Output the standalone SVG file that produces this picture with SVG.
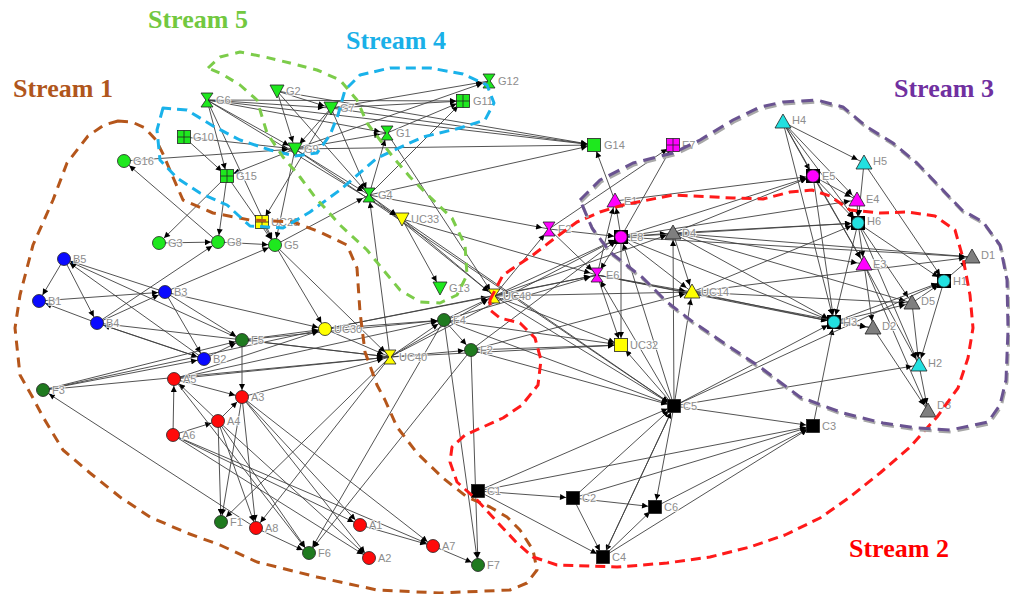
<svg xmlns="http://www.w3.org/2000/svg" xmlns:xlink="http://www.w3.org/1999/xlink" width="1010" height="594" viewBox="0 0 1010 594">
<style>
.lb{font-family:"Liberation Sans",Arial,sans-serif;font-size:11px;fill:#8d8d8d;stroke:#fff;stroke-width:2.2;stroke-opacity:0.75;paint-order:stroke;stroke-linejoin:round}
.st{font-family:"Liberation Serif","Times New Roman",serif;font-size:26px;font-weight:bold}
.loop{fill:none;stroke-width:3;stroke-linejoin:round}
#connectors line{stroke:#404040;stroke-width:0.9}
.ol{stroke:#222;stroke-width:0.8}
</style>
<defs>
<marker id="arr" viewBox="0 0 14 6" refX="14" refY="3" markerWidth="14" markerHeight="6" markerUnits="userSpaceOnUse" orient="auto"><path d="M1,0 L7,3 L1,6 z" fill="#000"/></marker>
<circle id="ci" class="ol" r="6.5"/>
<rect id="sq" class="ol" x="-6.5" y="-6.5" width="13" height="13"/>
<g id="gr"><rect class="ol" x="-6.5" y="-6.5" width="13" height="13"/><path class="ol" d="M-6.5,0H6.5M0,-6.5V6.5" fill="none"/></g>
<polygon id="hg" class="ol" points="-6,-7 6,-7 1.2,0 6,7 -6,7 -1.2,0"/>
<polygon id="dt" class="ol" points="-7,-6 7,-6 0,7"/>
<polygon id="ut" class="ol" points="0,-8 8,6 -8,6"/>
<g id="cs"><rect x="-7" y="-7" width="14" height="14" fill="#000"/><circle class="ol" r="6.2"/></g>
</defs>
<rect width="1010" height="594" fill="#fff"/>
<g id="connectors" marker-end="url(#arr)">
<line x1="207" y1="100" x2="331" y2="108"/>
<line x1="207" y1="100" x2="387" y2="133"/>
<line x1="207" y1="100" x2="463" y2="101"/>
<line x1="207" y1="100" x2="594" y2="145"/>
<line x1="207" y1="100" x2="227" y2="176"/>
<line x1="207" y1="100" x2="295" y2="149"/>
<line x1="207" y1="100" x2="275" y2="245"/>
<line x1="184" y1="137" x2="227" y2="176"/>
<line x1="184" y1="137" x2="295" y2="149"/>
<line x1="124" y1="161" x2="295" y2="149"/>
<line x1="218" y1="242" x2="124" y2="161"/>
<line x1="227" y1="176" x2="159" y2="243"/>
<line x1="227" y1="176" x2="218" y2="242"/>
<line x1="227" y1="176" x2="275" y2="245"/>
<line x1="277" y1="91" x2="331" y2="108"/>
<line x1="277" y1="91" x2="295" y2="149"/>
<line x1="277" y1="91" x2="594" y2="145"/>
<line x1="277" y1="91" x2="369" y2="195"/>
<line x1="331" y1="108" x2="463" y2="101"/>
<line x1="331" y1="108" x2="594" y2="145"/>
<line x1="331" y1="108" x2="369" y2="195"/>
<line x1="331" y1="108" x2="295" y2="149"/>
<line x1="295" y1="149" x2="387" y2="133"/>
<line x1="295" y1="149" x2="369" y2="195"/>
<line x1="295" y1="149" x2="594" y2="145"/>
<line x1="295" y1="149" x2="489" y2="81"/>
<line x1="295" y1="149" x2="227" y2="176"/>
<line x1="369" y1="195" x2="387" y2="133"/>
<line x1="369" y1="195" x2="463" y2="101"/>
<line x1="369" y1="195" x2="594" y2="145"/>
<line x1="387" y1="133" x2="463" y2="101"/>
<line x1="331" y1="108" x2="489" y2="81"/>
<line x1="369" y1="195" x2="402" y2="219"/>
<line x1="402" y1="219" x2="440" y2="288"/>
<line x1="402" y1="219" x2="494" y2="296"/>
<line x1="369" y1="195" x2="494" y2="296"/>
<line x1="262" y1="222" x2="275" y2="245"/>
<line x1="275" y1="245" x2="325" y2="329"/>
<line x1="275" y1="245" x2="369" y2="195"/>
<line x1="275" y1="245" x2="390" y2="357"/>
<line x1="218" y1="242" x2="275" y2="245"/>
<line x1="159" y1="243" x2="218" y2="242"/>
<line x1="295" y1="149" x2="275" y2="245"/>
<line x1="331" y1="108" x2="262" y2="222"/>
<line x1="295" y1="149" x2="674" y2="406"/>
<line x1="387" y1="133" x2="494" y2="296"/>
<line x1="207" y1="100" x2="402" y2="219"/>
<line x1="402" y1="219" x2="597" y2="275"/>
<line x1="369" y1="195" x2="549" y2="229"/>
<line x1="64" y1="259" x2="39" y2="301"/>
<line x1="64" y1="259" x2="97" y2="323"/>
<line x1="97" y1="323" x2="39" y2="301"/>
<line x1="39" y1="301" x2="165" y2="292"/>
<line x1="97" y1="323" x2="165" y2="292"/>
<line x1="165" y1="292" x2="64" y2="259"/>
<line x1="204" y1="359" x2="64" y2="259"/>
<line x1="242" y1="340" x2="64" y2="259"/>
<line x1="204" y1="359" x2="97" y2="323"/>
<line x1="165" y1="292" x2="204" y2="359"/>
<line x1="97" y1="323" x2="204" y2="359"/>
<line x1="165" y1="292" x2="242" y2="340"/>
<line x1="97" y1="323" x2="390" y2="357"/>
<line x1="165" y1="292" x2="325" y2="329"/>
<line x1="97" y1="323" x2="218" y2="242"/>
<line x1="165" y1="292" x2="275" y2="245"/>
<line x1="204" y1="359" x2="242" y2="340"/>
<line x1="43" y1="390" x2="242" y2="340"/>
<line x1="43" y1="390" x2="325" y2="329"/>
<line x1="43" y1="390" x2="390" y2="357"/>
<line x1="43" y1="390" x2="204" y2="359"/>
<line x1="256" y1="528" x2="43" y2="390"/>
<line x1="242" y1="340" x2="325" y2="329"/>
<line x1="242" y1="340" x2="390" y2="357"/>
<line x1="242" y1="340" x2="444" y2="320"/>
<line x1="242" y1="340" x2="242" y2="397"/>
<line x1="174" y1="379" x2="325" y2="329"/>
<line x1="174" y1="379" x2="390" y2="357"/>
<line x1="174" y1="379" x2="242" y2="397"/>
<line x1="173" y1="435" x2="174" y2="379"/>
<line x1="173" y1="435" x2="218" y2="421"/>
<line x1="218" y1="421" x2="242" y2="397"/>
<line x1="218" y1="421" x2="174" y2="379"/>
<line x1="218" y1="421" x2="221" y2="522"/>
<line x1="218" y1="421" x2="256" y2="528"/>
<line x1="218" y1="421" x2="309" y2="553"/>
<line x1="218" y1="421" x2="369" y2="558"/>
<line x1="242" y1="397" x2="221" y2="522"/>
<line x1="242" y1="397" x2="256" y2="528"/>
<line x1="242" y1="397" x2="360" y2="525"/>
<line x1="242" y1="397" x2="369" y2="558"/>
<line x1="242" y1="397" x2="433" y2="546"/>
<line x1="173" y1="435" x2="360" y2="525"/>
<line x1="173" y1="435" x2="433" y2="546"/>
<line x1="173" y1="435" x2="369" y2="558"/>
<line x1="174" y1="379" x2="309" y2="553"/>
<line x1="256" y1="528" x2="309" y2="553"/>
<line x1="360" y1="525" x2="433" y2="546"/>
<line x1="433" y1="546" x2="478" y2="565"/>
<line x1="471" y1="350" x2="478" y2="565"/>
<line x1="444" y1="320" x2="478" y2="565"/>
<line x1="444" y1="320" x2="309" y2="553"/>
<line x1="390" y1="357" x2="221" y2="522"/>
<line x1="390" y1="357" x2="256" y2="528"/>
<line x1="325" y1="329" x2="390" y2="357"/>
<line x1="325" y1="329" x2="444" y2="320"/>
<line x1="325" y1="329" x2="494" y2="296"/>
<line x1="390" y1="357" x2="444" y2="320"/>
<line x1="390" y1="357" x2="471" y2="350"/>
<line x1="390" y1="357" x2="494" y2="296"/>
<line x1="444" y1="320" x2="471" y2="350"/>
<line x1="444" y1="320" x2="494" y2="296"/>
<line x1="390" y1="357" x2="369" y2="195"/>
<line x1="174" y1="379" x2="444" y2="320"/>
<line x1="242" y1="397" x2="390" y2="357"/>
<line x1="471" y1="350" x2="309" y2="553"/>
<line x1="494" y1="296" x2="621" y2="237"/>
<line x1="494" y1="296" x2="597" y2="275"/>
<line x1="494" y1="296" x2="692" y2="292"/>
<line x1="494" y1="296" x2="621" y2="345"/>
<line x1="494" y1="296" x2="674" y2="406"/>
<line x1="494" y1="296" x2="549" y2="229"/>
<line x1="444" y1="320" x2="621" y2="345"/>
<line x1="471" y1="350" x2="621" y2="345"/>
<line x1="390" y1="357" x2="621" y2="345"/>
<line x1="444" y1="320" x2="597" y2="275"/>
<line x1="471" y1="350" x2="674" y2="406"/>
<line x1="444" y1="320" x2="674" y2="406"/>
<line x1="402" y1="219" x2="674" y2="406"/>
<line x1="471" y1="350" x2="621" y2="237"/>
<line x1="325" y1="329" x2="597" y2="275"/>
<line x1="549" y1="229" x2="621" y2="237"/>
<line x1="549" y1="229" x2="597" y2="275"/>
<line x1="549" y1="229" x2="673" y2="145"/>
<line x1="621" y1="237" x2="673" y2="145"/>
<line x1="615" y1="201" x2="594" y2="145"/>
<line x1="621" y1="237" x2="615" y2="201"/>
<line x1="597" y1="275" x2="615" y2="201"/>
<line x1="621" y1="237" x2="597" y2="275"/>
<line x1="621" y1="237" x2="673" y2="233"/>
<line x1="621" y1="237" x2="621" y2="345"/>
<line x1="597" y1="275" x2="621" y2="345"/>
<line x1="621" y1="237" x2="692" y2="292"/>
<line x1="673" y1="233" x2="692" y2="292"/>
<line x1="597" y1="275" x2="692" y2="292"/>
<line x1="674" y1="406" x2="673" y2="233"/>
<line x1="674" y1="406" x2="692" y2="292"/>
<line x1="674" y1="406" x2="621" y2="237"/>
<line x1="674" y1="406" x2="597" y2="275"/>
<line x1="674" y1="406" x2="621" y2="345"/>
<line x1="621" y1="237" x2="813" y2="176"/>
<line x1="673" y1="233" x2="813" y2="176"/>
<line x1="615" y1="201" x2="813" y2="176"/>
<line x1="621" y1="237" x2="858" y2="223"/>
<line x1="673" y1="233" x2="858" y2="223"/>
<line x1="621" y1="237" x2="857" y2="200"/>
<line x1="673" y1="233" x2="864" y2="264"/>
<line x1="621" y1="237" x2="834" y2="322"/>
<line x1="673" y1="233" x2="834" y2="322"/>
<line x1="692" y1="292" x2="834" y2="322"/>
<line x1="597" y1="275" x2="834" y2="322"/>
<line x1="692" y1="292" x2="972" y2="257"/>
<line x1="621" y1="237" x2="972" y2="257"/>
<line x1="673" y1="233" x2="912" y2="303"/>
<line x1="692" y1="292" x2="912" y2="303"/>
<line x1="692" y1="292" x2="858" y2="223"/>
<line x1="783" y1="122" x2="864" y2="163"/>
<line x1="783" y1="122" x2="813" y2="176"/>
<line x1="783" y1="122" x2="857" y2="200"/>
<line x1="783" y1="122" x2="858" y2="223"/>
<line x1="783" y1="122" x2="834" y2="322"/>
<line x1="783" y1="122" x2="864" y2="264"/>
<line x1="864" y1="163" x2="858" y2="223"/>
<line x1="864" y1="163" x2="944" y2="281"/>
<line x1="813" y1="176" x2="857" y2="200"/>
<line x1="813" y1="176" x2="858" y2="223"/>
<line x1="813" y1="176" x2="834" y2="322"/>
<line x1="813" y1="176" x2="864" y2="264"/>
<line x1="857" y1="200" x2="858" y2="223"/>
<line x1="858" y1="223" x2="864" y2="264"/>
<line x1="858" y1="223" x2="834" y2="322"/>
<line x1="858" y1="223" x2="944" y2="281"/>
<line x1="858" y1="223" x2="919" y2="365"/>
<line x1="858" y1="223" x2="912" y2="303"/>
<line x1="864" y1="264" x2="919" y2="365"/>
<line x1="864" y1="264" x2="873" y2="328"/>
<line x1="864" y1="264" x2="928" y2="411"/>
<line x1="944" y1="281" x2="972" y2="257"/>
<line x1="912" y1="303" x2="944" y2="281"/>
<line x1="834" y1="322" x2="912" y2="303"/>
<line x1="834" y1="322" x2="944" y2="281"/>
<line x1="834" y1="322" x2="873" y2="328"/>
<line x1="944" y1="281" x2="919" y2="365"/>
<line x1="912" y1="303" x2="919" y2="365"/>
<line x1="919" y1="365" x2="928" y2="411"/>
<line x1="873" y1="328" x2="928" y2="411"/>
<line x1="674" y1="406" x2="834" y2="322"/>
<line x1="674" y1="406" x2="919" y2="365"/>
<line x1="813" y1="426" x2="834" y2="322"/>
<line x1="674" y1="406" x2="813" y2="426"/>
<line x1="674" y1="406" x2="944" y2="281"/>
<line x1="674" y1="406" x2="655" y2="507"/>
<line x1="674" y1="406" x2="603" y2="557"/>
<line x1="478" y1="491" x2="573" y2="498"/>
<line x1="573" y1="498" x2="655" y2="507"/>
<line x1="573" y1="498" x2="603" y2="557"/>
<line x1="478" y1="491" x2="603" y2="557"/>
<line x1="603" y1="557" x2="655" y2="507"/>
<line x1="478" y1="491" x2="674" y2="406"/>
<line x1="573" y1="498" x2="674" y2="406"/>
<line x1="603" y1="557" x2="674" y2="406"/>
<line x1="478" y1="491" x2="813" y2="426"/>
<line x1="573" y1="498" x2="813" y2="426"/>
<line x1="655" y1="507" x2="813" y2="426"/>
<line x1="603" y1="557" x2="813" y2="426"/>
<line x1="673" y1="233" x2="972" y2="257"/>
<line x1="597" y1="275" x2="873" y2="328"/>
<line x1="494" y1="296" x2="673" y2="233"/>
<line x1="471" y1="350" x2="692" y2="292"/>
<line x1="390" y1="357" x2="621" y2="237"/>
</g>
<g id="nodes">
<g id="G6"><use href="#hg" x="207" y="100" fill="#1ee81e"/><text class="lb" x="216" y="104">G6</text></g>
<g id="G2"><use href="#dt" x="277" y="91" fill="#1ee81e"/><text class="lb" x="286" y="95">G2</text></g>
<g id="G7"><use href="#dt" x="331" y="108" fill="#1ee81e"/><text class="lb" x="340" y="112">G7</text></g>
<g id="G12"><use href="#hg" x="489" y="81" fill="#1ee81e"/><text class="lb" x="498" y="85">G12</text></g>
<g id="G11"><use href="#gr" x="463" y="101" fill="#1ee81e"/><text class="lb" x="473" y="105">G11</text></g>
<g id="G1"><use href="#hg" x="387" y="133" fill="#1ee81e"/><text class="lb" x="396" y="137">G1</text></g>
<g id="G9"><use href="#dt" x="295" y="149" fill="#1ee81e"/><text class="lb" x="304" y="153">G9</text></g>
<g id="G4"><use href="#hg" x="369" y="195" fill="#1ee81e"/><text class="lb" x="378" y="199">G4</text></g>
<g id="G10"><use href="#gr" x="184" y="137" fill="#1ee81e"/><text class="lb" x="193" y="141">G10</text></g>
<g id="G16"><use href="#ci" x="124" y="161" fill="#1ee81e"/><text class="lb" x="133" y="165">G16</text></g>
<g id="G15"><use href="#gr" x="227" y="176" fill="#1ee81e"/><text class="lb" x="236" y="180">G15</text></g>
<g id="G14"><use href="#sq" x="594" y="145" fill="#1ee81e"/><text class="lb" x="604" y="149">G14</text></g>
<g id="E7"><use href="#gr" x="673" y="145" fill="#ff00ff"/><text class="lb" x="682" y="149">E7</text></g>
<g id="UC33"><use href="#dt" x="402" y="219" fill="#ffff00"/><text class="lb" x="411" y="223">UC33</text></g>
<g id="UC29"><use href="#gr" x="262" y="222" fill="#ffff00"/><text class="lb" x="271" y="226">UC29</text></g>
<g id="G5"><use href="#ci" x="275" y="245" fill="#1ee81e"/><text class="lb" x="284" y="249">G5</text></g>
<g id="G13"><use href="#dt" x="440" y="288" fill="#1ee81e"/><text class="lb" x="449" y="292">G13</text></g>
<g id="UC48"><use href="#hg" x="494" y="296" fill="#ffff00"/><text class="lb" x="503" y="300">UC48</text></g>
<g id="G3"><use href="#ci" x="159" y="243" fill="#1ee81e"/><text class="lb" x="168" y="247">G3</text></g>
<g id="G8"><use href="#ci" x="218" y="242" fill="#1ee81e"/><text class="lb" x="227" y="246">G8</text></g>
<g id="B5"><use href="#ci" x="64" y="259" fill="#0a0aff"/><text class="lb" x="73" y="263">B5</text></g>
<g id="B1"><use href="#ci" x="39" y="301" fill="#0a0aff"/><text class="lb" x="48" y="305">B1</text></g>
<g id="B3"><use href="#ci" x="165" y="292" fill="#0a0aff"/><text class="lb" x="174" y="296">B3</text></g>
<g id="B4"><use href="#ci" x="97" y="323" fill="#0a0aff"/><text class="lb" x="106" y="327">B4</text></g>
<g id="B2"><use href="#ci" x="204" y="359" fill="#0a0aff"/><text class="lb" x="213" y="363">B2</text></g>
<g id="F5"><use href="#ci" x="242" y="340" fill="#1f7a1f"/><text class="lb" x="251" y="344">F5</text></g>
<g id="A5"><use href="#ci" x="174" y="379" fill="#ff0a0a"/><text class="lb" x="183" y="383">A5</text></g>
<g id="F3"><use href="#ci" x="43" y="390" fill="#1f7a1f"/><text class="lb" x="52" y="394">F3</text></g>
<g id="UC30"><use href="#ci" x="325" y="329" fill="#ffff00"/><text class="lb" x="334" y="333">UC30</text></g>
<g id="F4"><use href="#ci" x="444" y="320" fill="#1f7a1f"/><text class="lb" x="453" y="324">F4</text></g>
<g id="UC40"><use href="#hg" x="390" y="357" fill="#ffff00"/><text class="lb" x="399" y="361">UC40</text></g>
<g id="F2"><use href="#ci" x="471" y="350" fill="#1f7a1f"/><text class="lb" x="480" y="354">F2</text></g>
<g id="A3"><use href="#ci" x="242" y="397" fill="#ff0a0a"/><text class="lb" x="251" y="401">A3</text></g>
<g id="A4"><use href="#ci" x="218" y="421" fill="#ff0a0a"/><text class="lb" x="227" y="425">A4</text></g>
<g id="A6"><use href="#ci" x="173" y="435" fill="#ff0a0a"/><text class="lb" x="182" y="439">A6</text></g>
<g id="F1"><use href="#ci" x="221" y="522" fill="#1f7a1f"/><text class="lb" x="230" y="526">F1</text></g>
<g id="A8"><use href="#ci" x="256" y="528" fill="#ff0a0a"/><text class="lb" x="265" y="532">A8</text></g>
<g id="F6"><use href="#ci" x="309" y="553" fill="#1f7a1f"/><text class="lb" x="318" y="557">F6</text></g>
<g id="A1"><use href="#ci" x="360" y="525" fill="#ff0a0a"/><text class="lb" x="369" y="529">A1</text></g>
<g id="A2"><use href="#ci" x="369" y="558" fill="#ff0a0a"/><text class="lb" x="378" y="562">A2</text></g>
<g id="A7"><use href="#ci" x="433" y="546" fill="#ff0a0a"/><text class="lb" x="442" y="550">A7</text></g>
<g id="F7"><use href="#ci" x="478" y="565" fill="#1f7a1f"/><text class="lb" x="487" y="569">F7</text></g>
<g id="C1"><use href="#sq" x="478" y="491" fill="#000"/><text class="lb" x="487" y="495">C1</text></g>
<g id="C2"><use href="#sq" x="573" y="498" fill="#000"/><text class="lb" x="582" y="502">C2</text></g>
<g id="C6"><use href="#sq" x="655" y="507" fill="#000"/><text class="lb" x="664" y="511">C6</text></g>
<g id="C4"><use href="#sq" x="603" y="557" fill="#000"/><text class="lb" x="612" y="561">C4</text></g>
<g id="C5"><use href="#sq" x="674" y="406" fill="#000"/><text class="lb" x="683" y="410">C5</text></g>
<g id="C3"><use href="#sq" x="813" y="426" fill="#000"/><text class="lb" x="822" y="430">C3</text></g>
<g id="E1"><use href="#ut" x="615" y="201" fill="#ff00ff"/><text class="lb" x="624" y="205">E1</text></g>
<g id="E2"><use href="#hg" x="549" y="229" fill="#ff00ff"/><text class="lb" x="558" y="233">E2</text></g>
<g id="E8"><use href="#cs" x="621" y="237" fill="#ff00ff"/><text class="lb" x="630" y="241">E8</text></g>
<g id="D4"><use href="#ut" x="673" y="233" fill="#7f7f7f"/><text class="lb" x="682" y="237">D4</text></g>
<g id="E6"><use href="#hg" x="597" y="275" fill="#ff00ff"/><text class="lb" x="606" y="279">E6</text></g>
<g id="UC14"><use href="#ut" x="692" y="292" fill="#ffff00"/><text class="lb" x="701" y="296">UC14</text></g>
<g id="UC32"><use href="#sq" x="621" y="345" fill="#ffff00"/><text class="lb" x="630" y="349">UC32</text></g>
<g id="H4"><use href="#ut" x="783" y="122" fill="#22e0e0"/><text class="lb" x="792" y="124">H4</text></g>
<g id="H5"><use href="#ut" x="864" y="163" fill="#22e0e0"/><text class="lb" x="873" y="165">H5</text></g>
<g id="E5"><use href="#cs" x="813" y="176" fill="#ff00ff"/><text class="lb" x="822" y="180">E5</text></g>
<g id="E4"><use href="#ut" x="857" y="200" fill="#ff00ff"/><text class="lb" x="866" y="203">E4</text></g>
<g id="H6"><use href="#cs" x="858" y="223" fill="#22e0e0"/><text class="lb" x="867" y="225">H6</text></g>
<g id="E3"><use href="#ut" x="864" y="264" fill="#ff00ff"/><text class="lb" x="873" y="268">E3</text></g>
<g id="D1"><use href="#ut" x="972" y="257" fill="#7f7f7f"/><text class="lb" x="981" y="259">D1</text></g>
<g id="H1"><use href="#cs" x="944" y="281" fill="#22e0e0"/><text class="lb" x="953" y="285">H1</text></g>
<g id="D5"><use href="#ut" x="912" y="303" fill="#7f7f7f"/><text class="lb" x="921" y="305">D5</text></g>
<g id="H3"><use href="#cs" x="834" y="322" fill="#22e0e0"/><text class="lb" x="843" y="326">H3</text></g>
<g id="D2"><use href="#ut" x="873" y="328" fill="#7f7f7f"/><text class="lb" x="882" y="330">D2</text></g>
<g id="H2"><use href="#ut" x="919" y="365" fill="#22e0e0"/><text class="lb" x="928" y="367">H2</text></g>
<g id="D3"><use href="#ut" x="928" y="411" fill="#7f7f7f"/><text class="lb" x="937" y="409">D3</text></g>
</g>
<g id="streams">
<path class="loop" stroke="#b5561b" stroke-dasharray="10 7" d="M118,121 L132,122 145,128 156,140 164,156 172,175 183,200 213,213 250,220 293,222 320,232 347,245 357,268 360,312 365,352 377,385 385,400 397,427 417,453 443,478 467,497 490,507 507,517 520,530 533,550 537,570 527,583 510,590 440,593 377,590 317,577 257,562 220,545 187,533 150,517 120,497 90,473 63,450 43,417 33,398 20,375 15,328 20,295 33,245 53,200 67,163 88,136 104,125 Z"/>
<path class="loop" stroke="#1ab2ea" stroke-dasharray="10 6" d="M163,108 L157,130 160,160 177,178 200,193 227,205 250,226 283,228 310,212 340,190 377,158 423,137 460,128 485,120 494,103 487,85 463,74 430,68 390,68 360,75 345,90 338,115 330,135 317,153 295,156 270,150 240,140 213,126 187,110 Z"/>
<path class="loop" stroke="#7ccc4a" stroke-dasharray="9 7" d="M208,68 L220,57 240,52 265,57 290,63 317,70 340,80 357,100 367,123 380,140 393,157 410,177 430,197 452,218 465,245 467,275 457,295 440,303 420,302 400,290 385,272 367,250 340,225 315,197 300,177 283,157 267,133 257,100 240,85 222,74 Z"/>
<path class="loop" stroke="#ff1a1a" stroke-dasharray="10 6" d="M490,300 L503,275 533,255 555,238 577,222 600,212 623,205 673,195 733,198 763,199 790,192 812,190 830,196 850,210 880,213 907,212 935,216 955,230 963,258 970,295 973,328 968,358 958,388 937,417 910,447 880,473 850,497 820,518 785,535 750,547 710,557 667,563 617,567 557,565 533,557 517,543 500,525 477,500 457,482 450,462 452,447 465,435 483,427 503,418 522,405 538,385 541,360 535,338 520,323 500,318 490,310 Z"/>
<path class="loop" stroke="#a8a8a8" stroke-width="3.5" stroke-dasharray="12 7" transform="translate(1,2)" d="M580,200 L600,180 633,163 673,153 700,140 733,120 760,107 783,102 817,100 843,107 867,127 893,143 917,163 940,187 962,210 983,222 1000,245 1007,280 1008,330 1006,380 1000,405 988,422 950,430 917,428 883,423 843,413 800,397 760,367 727,345 693,322 667,302 643,278 610,252 592,228 Z"/>
<path class="loop" stroke="#6a5391" stroke-dasharray="12 7" d="M580,200 L600,180 633,163 673,153 700,140 733,120 760,107 783,102 817,100 843,107 867,127 893,143 917,163 940,187 962,210 983,222 1000,245 1007,280 1008,330 1006,380 1000,405 988,422 950,430 917,428 883,423 843,413 800,397 760,367 727,345 693,322 667,302 643,278 610,252 592,228 Z"/>
</g>
<g id="titles">
<text class="st" x="148" y="28" fill="#72c840">Stream 5</text>
<text class="st" x="346" y="49" fill="#1ab0e8">Stream 4</text>
<text class="st" x="13" y="97" fill="#b0561c">Stream 1</text>
<text class="st" x="894" y="97" fill="#7030a0">Stream 3</text>
<text class="st" x="849" y="557" fill="#ff0000">Stream 2</text>
</g>
</svg>
